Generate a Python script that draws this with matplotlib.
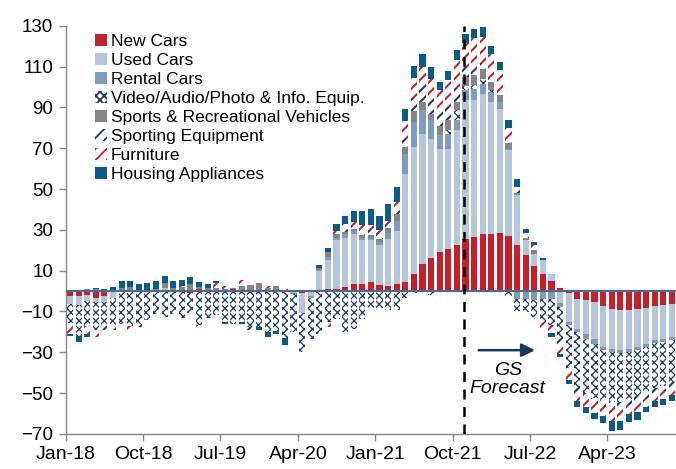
import numpy as np
import matplotlib
matplotlib.use("Agg")
import matplotlib.pyplot as plt

plt.rcParams['font.family'] = ['Liberation Sans', 'DejaVu Sans']
plt.rcParams['hatch.linewidth'] = 1.3

# months Jan-18 .. Nov-23 (71 bars)
n_months = 71
x = np.arange(n_months)

# contributions by category
new_cars = [-2.5, -2.5, -2, -3.5, -2.5, 0, 0, 0, 0, 0, 0, 0,
            0, 0, -1, 1, 0, 0, 0, 0.8, 0, 0, 0, 0,
            0, 0, 0, -0.8, 0, 0, 1, 1, 2, 3.6, 3.6, 4.4,
            3.1, 2.3, 3.6, 4.4, 8.5, 13.4, 16.3, 19.1, 20.8, 22.4, 25.7, 26.5,
            28, 28, 28.5, 26.8, 22.7, 17.5, 12.1, 8.5, 4.7, 1.6, -0.8, -4.1,
            -4.6, -5.4, -7.4, -8.7, -9.5, -9.5, -9, -8.3, -7.4, -6.7, -6.2]
used_cars = [-4, -4.5, -3, -2, -2.7, -3.5, 0, 0, 0, 0, -0.5, 1.5,
             0, 0, 0, 0, 0, 0, 0, 0, 0, 0, 0, 0,
             0, 0, -1, -10, -2.5, 9.6, 14.4, 23.9, 24.2, 24.5, 21.2, 20.4,
             19.3, 23.4, 26, 53, 62, 63.7, 58.3, 50.7, 49, 56.4, 68, 67,
             68.7, 64.6, 60.9, 42.2, 24.2, 7.4, 6.2, 6.9, 3.8, -6, -14.2, -14.4,
             -16.3, -18, -20.1, -19.6, -19.5, -18.8, -18.5, -17.5, -16.8, -16.7, -16.3]
rental_cars = [0, 0, 0, 0, 0, 0, 0, 0, 0, 0, 0, 0,
               0, 0, 0, 0, 0, 0, 0, 0, 0, 0, 0, 0,
               0, 0, -0.5, 0, -1, 0.8, 1.3, 1, 1.6, 1.3, 1.3, 1.3,
               1.6, 2.5, 4.9, 9.8, 12.3, 11.4, 9, 6.5, 7.4, 4.9, 5, 5.7,
               4.9, 4.9, 3.3, 0.5, -4, -4, -4.5, -4, -3.8, -2, -1.5, -1.6,
               -2.5, -2.5, -1.6, -1.6, -1.5, -1.5, -1.5, -1.5, -1.5, -1.5, -1.5]
video_audio = [-9, -15, -12, -13.5, -12, -13, -15.5, -17, -16, -14, -11, -12.5,
               -11.5, -13, -10, -16.5, -13, -12, -15, -16, -15, -17.5, -17.5, -20,
               -19.5, -23, -18.5, -19, -20, -21, -15.2, -13.5, -20, -18.5, -13.5, -8.5,
               -8.5, -9.5, -9.5, -3.5, -1, 0, -2, 0, 1.6, 4.9, 2, 1.6,
               2.5, 1, 0, -2.5, -5.7, -6.5, -8, -11, -13, -15.4, -21.2, -26.9,
               -26.6, -26.7, -24.4, -24.6, -24, -23.2, -22.5, -22.2, -21.8, -21.6, -20.5]
sports_rec = [0, 0, 1, 0.8, 0, 0.3, 1.5, 2.2, 0.5, 0.5, 0.8, 2.2,
              1.7, 2, 3.3, 1.2, 1.5, 1.5, 1, 0.5, 2.5, 3, 4, 1.7,
              2.5, 0.5, 0.5, 0, 0, 1, 2.5, 2.1, 1.1, 1.2, 1.2, 1.2,
              1.6, 2.5, 3.3, 3.3, 5.4, 4.1, 3.3, 4.4, 4.9, 4.1, 4, 4.9,
              4.9, 3.8, 3.3, 2.9, 1.1, 1.3, 1.6, 0, 0, 0, 0, 0,
              0, 0, 0, 0, 0, 0, 0, 0, 0, 0, 0]
sporting_eq = [0, 0, 0, 0, -2, -2.5, 0, 0, -1.5, 0, 0, -1.5,
               0, 0, 0, 0, 0, 0, 0, 0, 0, -1.5, 0, 0,
               0, 0, 0, 0, 0, 0, -1, 0, 1, 1.5, 2.8, 2.5,
               3, 1.5, 1.5, 4, 6.5, 8, 8, 7.8, 6.5, 7, 5, 3,
               3, 2, 1.5, 1.5, 1.5, 0, 0, 0, 0, -2, -2, -2.5,
               -2.5, -2.5, -3, -3, -3, -3, -3, -3, -2.5, -2.5, -2.5]
furniture = [-5.5, 0, -4, -3.5, 0, 0, -0.5, -2.5, 0, 0, 0, 0,
             0, 0.5, 0, -1, 0, 2.2, 1.5, 0, 3, 0, 0, 0.7,
             0, 2, 0, 0, 0, 0, -1.5, 1.6, 2.9, 1.8, 2.2, 2.5,
             1.5, 2, 4.5, 9, 9.5, 9, 9.2, 10, 13, 13.4, 12, 15.3,
             12.5, 11.9, 10.7, 6, 1.6, 2, 2.5, -4.5, -4, -5.4, -4, -4.5,
             -4.5, -4.5, -5, -6, -6, -4.5, -5, -4.5, -4, -4, -4]
housing_appl = [-1.2, -3, -1.3, 0.8, 1, 1.7, 3.5, 2.8, 3, 3.3, 4.2, 3.7,
                3.3, 3, 3.5, 2.2, 1.7, 1.2, -1, 0, -1, 0, -1.5, -2.5,
                -1.5, -3.5, 0, 0, 0.5, 1.3, 2.1, 3.3, 3.8, 5.3, 6.9, 7.7,
                6.5, 8.3, 7, 5.5, 5.9, 6.4, 5.7, 4, 4.6, 4.9, 4.3, 4.6,
                4.9, 4.1, 4.1, 4, 3.8, 2.4, 1.6, 1, -1.5, -1.6, -2, -3,
                -3, -3, -3, -5, -4.5, -3.5, -3.5, -2.5, -3, -3, -3]

labels = ['New Cars', 'Used Cars', 'Rental Cars', 'Video/Audio/Photo & Info. Equip.',
          'Sports & Recreational Vehicles', 'Sporting Equipment', 'Furniture',
          'Housing Appliances']
series = [new_cars, used_cars, rental_cars, video_audio, sports_rec,
          sporting_eq, furniture, housing_appl]

tick_labels = ['Jan-18', 'Oct-18', 'Jul-19', 'Apr-20', 'Jan-21', 'Oct-21', 'Jul-22', 'Apr-23']
tick_pos = [0, 9, 18, 27, 36, 45, 54, 63]

navy = '#1c3764'
styles = [
    dict(color='#c4202c'),
    dict(color='#b5c6da'),
    dict(color='#7f9bbd'),
    dict(facecolor='white', edgecolor=navy, hatch='xxxx', linewidth=0),
    dict(color='#858585'),
    dict(facecolor='white', edgecolor=navy, hatch='///', linewidth=0),
    dict(facecolor='white', edgecolor='#c4202c', hatch='///', linewidth=0),
    dict(color='#0c5a88'),
]
# thinner lines for the dotted video pattern
hatch_lw = [None, None, None, 0.9, None, 1.5, 1.5, None]

fig = plt.figure(figsize=(6.76, 4.69), dpi=100)
ax = fig.add_axes([0.0972, 0.075, 0.9028, 0.870])

pos_base = np.zeros(n_months)
neg_base = np.zeros(n_months)
handles = []
for vals, st, lab, hl in zip(series, styles, labels, hatch_lw):
    v = np.array(vals, dtype=float)
    pos = np.where(v > 0, v, 0)
    neg = np.where(v < 0, v, 0)
    b = ax.bar(x, pos, bottom=pos_base, width=0.72, label=lab, **st)
    b2 = ax.bar(x, neg, bottom=neg_base, width=0.72, **st)
    if hl is not None:
        for p in list(b.patches) + list(b2.patches):
            if hasattr(p, 'set_hatch_linewidth'):
                p.set_hatch_linewidth(hl)
    pos_base += pos
    neg_base += neg
    handles.append(b)

ax.axhline(0, color='#4d6a8c', lw=1.6, zorder=3)
ax.axvline(45.8, color='black', lw=1.8, ls=(0, (4, 3)), zorder=4)

ax.annotate('', xy=(54.4, -29), xytext=(47.2, -29),
            arrowprops=dict(arrowstyle='-|>', color='#17375e', lw=1.8, mutation_scale=20))
ax.text(50.9, -43.5, 'GS\nForecast', ha='center', va='center', fontsize=14,
        style='italic', linespacing=1.1)

ax.set_xlim(-0.5, 70.47)
ax.set_ylim(-70, 130)
ax.set_yticks(np.arange(-70, 131, 20))
ax.set_xticks(np.array(tick_pos) - 0.5)
ax.set_xticklabels(tick_labels)
ax.tick_params(axis='y', labelsize=13.5, color='#868686', length=5, width=1, pad=4)
ax.tick_params(axis='x', labelsize=14, color='#868686', length=5, width=1, pad=4)

for s in ['top', 'right']:
    ax.spines[s].set_visible(False)
for s in ['left', 'bottom']:
    ax.spines[s].set_color('#868686')
    ax.spines[s].set_linewidth(1)

ax.legend(handles=handles, loc='upper left', bbox_to_anchor=(0.048, 0.98),
          frameon=False, fontsize=12.5, handlelength=0.7, handleheight=0.7,
          handletextpad=0.2, labelspacing=0.22, borderpad=0, borderaxespad=0)

fig.savefig('out.png', dpi=100)
